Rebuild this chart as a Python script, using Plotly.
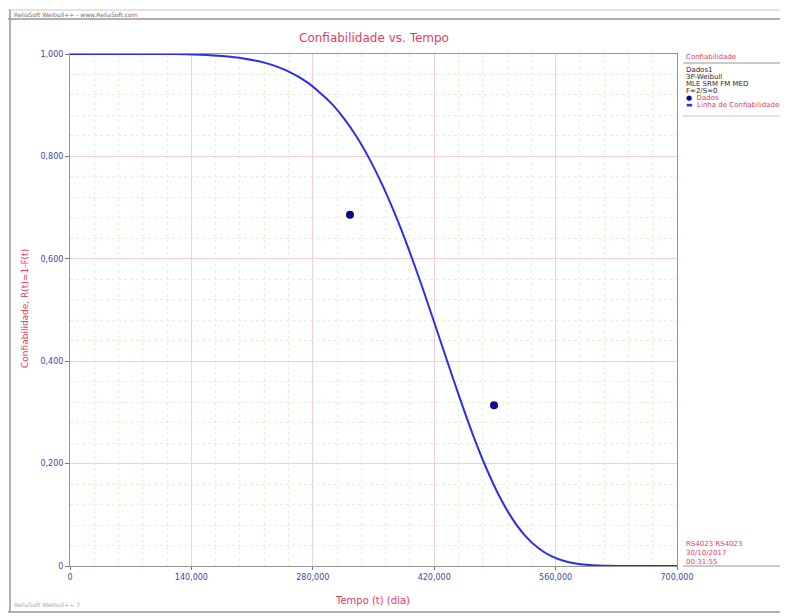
import plotly.graph_objects as go

# ---- data ----
curve_t = [0, 60000, 120000, 150000, 175000, 200000, 225000, 250000, 275000, 300000,
           315000, 330000, 345000, 360000, 375000, 390000, 405000, 420000, 435000,
           450000, 465000, 480000, 495000, 510000, 525000, 540000, 555000, 570000,
           585000, 600000, 615000, 630000, 660000, 700000]
curve_r = [1.0, 1.0, 1.0, 0.9985, 0.9961, 0.9914, 0.9826, 0.9675, 0.9432, 0.9061,
           0.8763, 0.8398, 0.7961, 0.7450, 0.6866, 0.6214, 0.5507, 0.4760, 0.4001,
           0.3254, 0.2548, 0.1914, 0.1368, 0.0926, 0.0589, 0.0350, 0.0192, 0.0097,
           0.0044, 0.0018, 0.0007, 0.0002, 0.0, 0.0]
data_t = [322900, 489000]
data_r = [0.686, 0.314]

x_tickvals = [0, 140000, 280000, 420000, 560000, 700000]
x_ticktext = ["0", "140,000", "280,000", "420,000", "560,000", "700,000"]
y_tickvals = [0, 0.2, 0.4, 0.6, 0.8, 1.0]
y_ticktext = ["0", "0,200", "0,400", "0,600", "0,800", "1,000"]

legend_info = ["Dados1", "3P-Weibull", "MLE SRM FM MED", "F=2/S=0"]
footer_info = ["RS4023 RS4023", "30/10/2017", "00:31:55"]

# ---- layout helpers (window pixel -> paper); page body has an 8px margin ----
OFF = 8
WIN_W, WIN_H = 788, 616
W, H = WIN_W - OFF, WIN_H - OFF
L, R, T, B = 70, 677, 54, 566   # plot area in window pixels


def px(x):
    return (x - L) / (R - L)


def py(y):
    return (B - y) / (B - T)


RED = "rgb(228,60,95)"
TICK = "rgb(70,70,165)"
FONT = "DejaVu Sans"

fig = go.Figure()
fig.add_trace(go.Scatter(x=curve_t, y=curve_r, mode="lines",
                         line=dict(color="rgb(45,45,235)", width=2, shape="spline", smoothing=0.6),
                         hoverinfo="skip", showlegend=False))
fig.add_trace(go.Scatter(x=data_t, y=data_r, mode="markers",
                         marker=dict(color="rgb(10,10,140)", size=8),
                         showlegend=False))

fig.update_layout(
    width=W, height=H,
    margin=dict(l=L - OFF, r=WIN_W - R, t=T - OFF, b=WIN_H - B, pad=0),
    paper_bgcolor="white", plot_bgcolor="white",
    font=dict(family=FONT, size=8, color=TICK),
)
fig.update_xaxes(range=[0, 700000], tickvals=x_tickvals, ticktext=x_ticktext,
                 showline=True, linecolor="rgb(150,150,150)", linewidth=1, mirror=True,
                 ticks="outside", ticklen=3, tickcolor="rgb(120,120,120)",
                 showgrid=True, gridcolor="rgb(240,208,218)", gridwidth=1,
                 zeroline=False,
                 tickfont=dict(size=8, color=TICK, family=FONT),
                 minor=dict(dtick=28000, showgrid=True, gridcolor="rgb(222,244,215)",
                            griddash="dot", ticks=""))
fig.update_yaxes(range=[0, 1.0], tickvals=y_tickvals, ticktext=y_ticktext,
                 showline=True, linecolor="rgb(150,150,150)", linewidth=1, mirror=True,
                 ticks="outside", ticklen=4, tickcolor="rgb(120,120,120)",
                 showgrid=True, gridcolor="rgb(240,208,218)", gridwidth=1,
                 zeroline=False,
                 tickfont=dict(size=8, color=TICK, family=FONT),
                 minor=dict(dtick=0.04, showgrid=True, gridcolor="rgb(222,244,215)",
                            griddash="dot", ticks=""))


def note(text, x, y, size, color, xanchor="center", angle=0):
    return dict(text=text, x=px(x), y=py(y), xref="paper", yref="paper",
                xanchor=xanchor, yanchor="middle", showarrow=False, textangle=angle,
                font=dict(size=size, color=color, family=FONT))


ann = [
    note("Confiabilidade vs. Tempo", 374, 38, 12, RED),
    note("Tempo (t) (dia)", 372, 600, 10, RED),
    note("Confiabilidade, R(t)=1-F(t)", 25, 309, 9, RED, angle=-90),
    note("ReliaSoft Weibull++ - www.ReliaSoft.com", 12, 14, 6, "rgb(110,110,110)", "left"),
    note("ReliaSoft Weibull++ 7", 12, 604, 6, "rgb(170,170,170)", "left"),
    note("Confiabilidade", 684, 57, 7, RED, "left"),
]
for i, s in enumerate(legend_info):
    ann.append(note(s, 684, 70 + i * 7, 7, "rgb(40,40,40)", "left"))
ann.append(note("<span style='color:rgb(10,10,140)'>●</span>  Dados", 684, 98, 7, RED, "left"))
ann.append(note("<span style='color:rgb(45,45,235)'>▬</span>  Linha de Confiabilidade", 684, 105, 7, RED, "left"))
for i, s in enumerate(footer_info):
    ann.append(note(s, 684, 544 + i * 9, 7, RED, "left"))
fig.update_layout(annotations=ann)


def hline(y, x0, x1, color, width):
    return dict(type="line", xref="paper", yref="paper", x0=px(x0), x1=px(x1), y0=py(y), y1=py(y),
                line=dict(color=color, width=width))


gray = "rgb(150,150,150)"
shp = [
    hline(10, 0, WIN_W, "rgb(200,200,200)", 1),
    hline(19, 0, WIN_W, gray, 1.5),
    hline(612, 0, WIN_W, gray, 1.5),
    hline(63, 683, WIN_W, gray, 1),
    hline(116, 683, WIN_W, "rgb(200,200,200)", 1),
    hline(566, 683, WIN_W, gray, 1),
    dict(type="line", xref="paper", yref="paper", x0=px(10), x1=px(10), y0=py(10), y1=py(612),
         line=dict(color=gray, width=1.5)),
]
fig.update_layout(shapes=shp)

fig.write_html("out.html")
